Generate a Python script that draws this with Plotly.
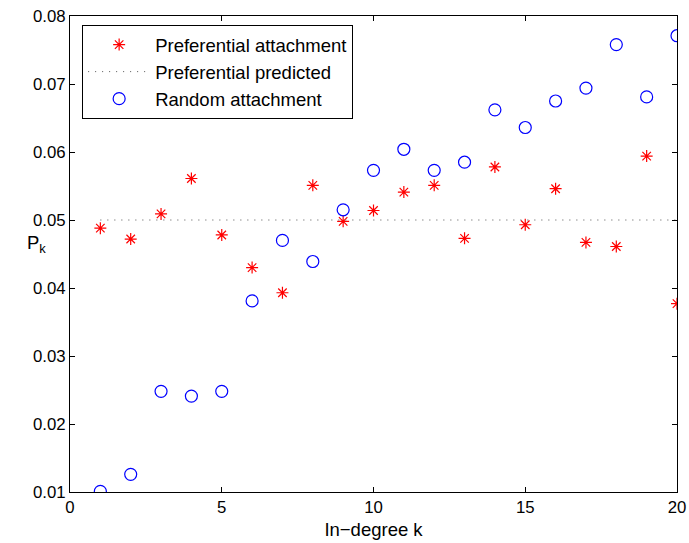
import plotly.graph_objects as go

k = list(range(1, 21))
pref = [0.0488, 0.0472, 0.0509, 0.0561, 0.0478, 0.0430, 0.0393, 0.0551, 0.0498, 0.0514,
        0.0541, 0.0551, 0.0473, 0.0578, 0.0493, 0.0546, 0.0467, 0.0461, 0.0594, 0.0377]
rand = [0.0101, 0.0126, 0.0248, 0.0241, 0.0248, 0.0381, 0.0470, 0.0439, 0.0515, 0.0573,
        0.0604, 0.0573, 0.0585, 0.0662, 0.0636, 0.0675, 0.0694, 0.0758, 0.0681, 0.0771]
pred_x = [1, 20]
pred_y = [0.05, 0.05]
xticks = [0, 5, 10, 15, 20]
yticks = [0.01, 0.02, 0.03, 0.04, 0.05, 0.06, 0.07, 0.08]

font = "Liberation Sans, Arial, Helvetica, sans-serif"

fig = go.Figure()
fig.add_trace(go.Scatter(x=k, y=pref, mode="markers", name="Preferential attachment",
                         marker=dict(symbol="asterisk-open", size=10, color="red",
                                     line=dict(color="red", width=1.2))))
fig.add_trace(go.Scatter(x=pred_x, y=pred_y, mode="lines", name="Preferential predicted",
                         line=dict(color="#555555", width=1, dash="1px,6px")))
fig.add_trace(go.Scatter(x=k, y=rand, mode="markers", name="Random attachment",
                         marker=dict(symbol="circle-open", size=12, color="blue",
                                     line=dict(color="blue", width=1.2))))

axis_common = dict(showgrid=False, zeroline=False, showline=True, linecolor="black",
                   linewidth=1, mirror="ticks", ticks="inside", ticklen=5,
                   tickcolor="black", automargin=False,
                   tickfont=dict(family=font, size=16.8, color="black"))

fig.update_layout(
    width=689, height=543,
    margin=dict(l=70, r=12, t=16, b=51),
    paper_bgcolor="white", plot_bgcolor="white",
    font=dict(family=font, size=16.8, color="black"),
    xaxis=dict(range=[0, 20], tickvals=xticks, ticktext=[str(v) for v in xticks],
               title=dict(text="In\u2212degree k", standoff=6, font=dict(size=18.5)),
               **axis_common),
    yaxis=dict(range=[0.01, 0.08], tickvals=yticks, ticktext=[f"{v:.2f}" for v in yticks],
               **axis_common),
    legend=dict(x=0.02, y=0.981, xanchor="left", yanchor="top",
                bgcolor="white", bordercolor="black", borderwidth=1,
                font=dict(family=font, size=18.5, color="black"),
                itemwidth=62, tracegroupgap=0),
    showlegend=True,
)
fig.add_annotation(text="P<sub>k</sub>", xref="paper", yref="paper",
                   x=-0.036, y=0.52, showarrow=False, xanchor="right",
                   font=dict(family=font, size=18.5, color="black"))

fig.write_html("out.html")
